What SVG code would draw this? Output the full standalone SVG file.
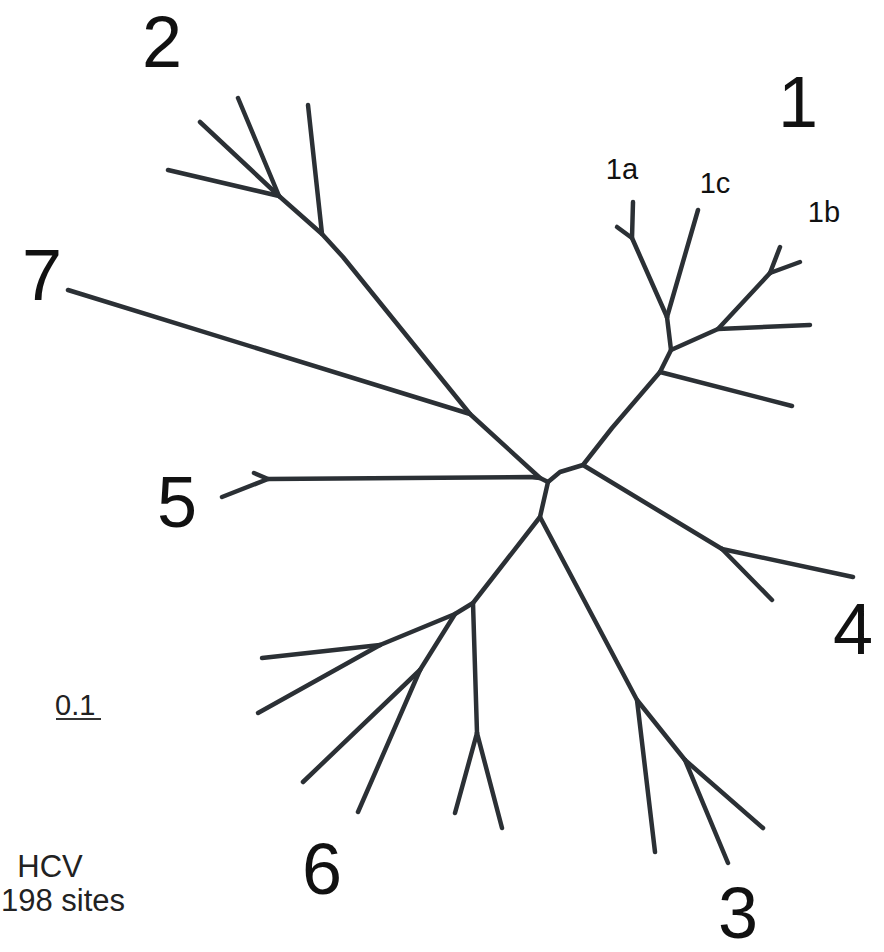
<svg xmlns="http://www.w3.org/2000/svg" width="884" height="952" viewBox="0 0 884 952">
<style>
.br{fill:none;stroke:#2b3035;stroke-width:4.5;stroke-linecap:round;stroke-linejoin:round}
.big{font-family:"Liberation Sans",Arial,sans-serif;font-size:72px;fill:#111;text-anchor:middle}
.sm{font-family:"Liberation Sans",Arial,sans-serif;font-size:29px;fill:#111;text-anchor:middle}
.note{font-family:"Liberation Sans",Arial,sans-serif;font-size:31px;fill:#222}
</style>
<rect width="884" height="952" fill="#fff"/>
<g id="connectors">
<!-- clade 2 / 7 -->
<polyline class="br" points="548,482 540,478 470,414 343,257 322,234 279,196"/>
<line class="br" x1="470" y1="414" x2="68" y2="290"/>
<line class="br" x1="322" y1="234" x2="308" y2="105"/>
<line class="br" x1="279" y1="196" x2="168" y2="170"/>
<line class="br" x1="279" y1="196" x2="200" y2="122"/>
<line class="br" x1="279" y1="196" x2="238" y2="98"/>
<!-- clade 5 -->
<polyline class="br" points="540,478 530,477 268,479 222,497"/>
<line class="br" x1="268" y1="479" x2="254" y2="473"/>
<!-- clade 1 -->
<polyline class="br" points="548,482 560,472 583,465 612,428 660,372"/>
<line class="br" x1="660" y1="372" x2="792" y2="406"/>
<polyline class="br" points="660,372 671,350 667,317"/>
<line class="br" x1="667" y1="317" x2="698" y2="210"/>
<polyline class="br" points="667,317 632,238 633,202"/>
<line class="br" x1="632" y1="238" x2="617" y2="227"/>
<polyline class="br" points="671,350 718,329 770,273"/>
<line class="br" x1="718" y1="329" x2="810" y2="325"/>
<line class="br" x1="770" y1="273" x2="780" y2="247"/>
<line class="br" x1="770" y1="273" x2="800" y2="262"/>
<!-- clade 4 -->
<line class="br" x1="583" y1="465" x2="722" y2="549"/>
<line class="br" x1="722" y1="549" x2="853" y2="577"/>
<line class="br" x1="722" y1="549" x2="772" y2="600"/>
<!-- clade 6 -->
<polyline class="br" points="548,482 540,517 473,603 455,614 380,645"/>
<line class="br" x1="380" y1="645" x2="262" y2="658"/>
<line class="br" x1="380" y1="645" x2="258" y2="713"/>
<line class="br" x1="455" y1="614" x2="420" y2="670"/>
<line class="br" x1="420" y1="670" x2="303" y2="782"/>
<line class="br" x1="420" y1="670" x2="358" y2="812"/>
<line class="br" x1="473" y1="603" x2="477" y2="733"/>
<line class="br" x1="477" y1="733" x2="455" y2="813"/>
<line class="br" x1="477" y1="733" x2="502" y2="828"/>
<!-- clade 3 -->
<polyline class="br" points="540,517 637,700 685,760"/>
<line class="br" x1="637" y1="700" x2="655" y2="852"/>
<line class="br" x1="685" y1="760" x2="763" y2="828"/>
<line class="br" x1="685" y1="760" x2="728" y2="863"/>
</g>
<g id="label-2"><text class="big" x="162" y="67">2</text></g>
<g id="label-1"><text class="big" x="798" y="127">1</text></g>
<g id="label-7"><text class="big" x="42" y="300">7</text></g>
<g id="label-5"><text class="big" x="177" y="527">5</text></g>
<g id="label-4"><text class="big" x="853" y="654">4</text></g>
<g id="label-6"><text class="big" x="322" y="894">6</text></g>
<g id="label-3"><text class="big" x="738" y="938">3</text></g>
<g id="label-1a"><text class="sm" x="622" y="179">1a</text></g>
<g id="label-1c"><text class="sm" x="715" y="193">1c</text></g>
<g id="label-1b"><text class="sm" x="824" y="222">1b</text></g>
<g id="scale-bar">
<text x="55" y="715" font-family="Liberation Sans,Arial,sans-serif" font-size="29" fill="#222">0.1</text>
<line x1="56" y1="719" x2="101" y2="719" stroke="#333" stroke-width="2"/>
</g>
<g id="caption">
<text class="note" x="50" y="877" text-anchor="middle">HCV</text>
<text class="note" x="1" y="911">198 sites</text>
</g>
</svg>
